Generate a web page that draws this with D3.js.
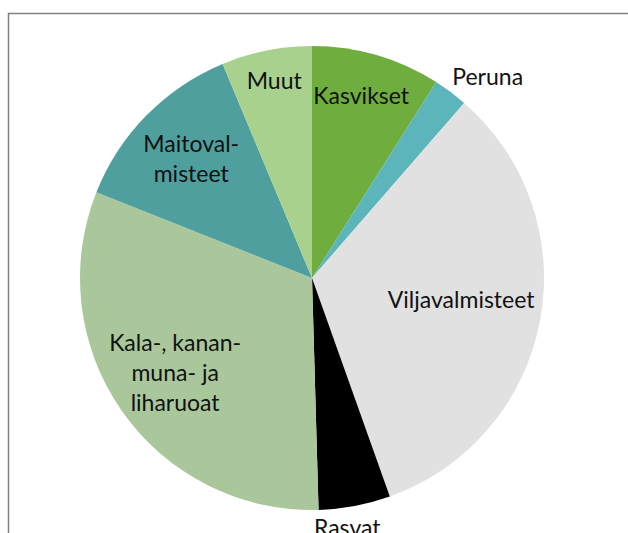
<!DOCTYPE html>
<html>
<head>
<meta charset="utf-8">
<script src="https://cdn.jsdelivr.net/npm/d3@7"></script>
<style>
  html, body { margin: 0; padding: 0; background: #fff; overflow: hidden; }
  svg { display: block; }
</style>
</head>
<body>
<div id="chart"></div>
<script>
// food groups, clockwise from 12 o'clock (share of total, %)
var categories = ["Kasvikset", "Peruna", "Viljavalmisteet", "Rasvat", "Kala-, kananmuna- ja liharuoat", "Maitovalmisteet", "Muut"];
var values = [9.0, 2.4, 33.2, 5.0, 31.5, 12.7, 6.3];
// label lines as printed in the chart
var labelLines = [["Kasvikset"], ["Peruna"], ["Viljavalmisteet"], ["Rasvat"], ["Kala-, kanan-", "muna- ja", "liharuoat"], ["Maitoval-", "misteet"], ["Muut"]];
var colors = ["#6fad3f", "#5bb5bb", "#e1e1e1", "#000000", "#a9c79b", "#4f9f9f", "#a9d18e"];

var width = 628, height = 533;
var cx = 312, cy = 278, radius = 232;

// where each label sits, as a fraction of the radius
var labelRadius = {
  "Kasvikset": 0.81, "Peruna": 1.15, "Viljavalmisteet": 0.65, "Rasvat": 1.09,
  "Kala-, kananmuna- ja liharuoat": 0.72, "Maitovalmisteet": 0.73, "Muut": 0.86
};
var labelAngleShift = { "Peruna": 4.5, "Rasvat": 2.6, "Muut": 0.4, "Viljavalmisteet": -2.2, "Kasvikset": -1 };

var data = categories.map((c, i) => ({name: c, value: values[i], lines: labelLines[i], color: colors[i]}));

var svg = d3.select("#chart").append("svg")
    .attr("width", width)
    .attr("height", height);

// chart area border (extends past the photo on the right and bottom)
svg.append("rect")
    .attr("x", 8.5).attr("y", 13.5)
    .attr("width", width + 20).attr("height", height + 20)
    .attr("fill", "#fff")
    .attr("stroke", "#808080")
    .attr("stroke-width", 1.5);

var pie = d3.pie().sort(null).value(d => d.value);
var arc = d3.arc().innerRadius(0).outerRadius(radius);
var arcs = pie(data);

var g = svg.append("g").attr("transform", `translate(${cx},${cy})`);

g.selectAll("path")
  .data(arcs)
  .join("path")
    .attr("d", arc)
    .attr("fill", d => d.data.color);

var fontSize = 23, lineH = 30;

g.selectAll("text")
  .data(arcs)
  .join("text")
    .attr("text-anchor", "middle")
    .attr("font-family", "Lato, 'Open Sans', sans-serif")
    .attr("font-size", fontSize)
    .attr("fill", "#111")
    .attr("transform", d => {
      var a = (d.startAngle + d.endAngle) / 2 + (labelAngleShift[d.data.name] || 0) * Math.PI / 180;
      var r = radius * labelRadius[d.data.name];
      return `translate(${r * Math.sin(a)},${-r * Math.cos(a)})`;
    })
    .each(function(d) {
      var n = d.data.lines.length;
      d3.select(this).selectAll("tspan")
        .data(d.data.lines)
        .join("tspan")
          .attr("x", 0)
          .attr("y", (l, i) => (i - (n - 1) / 2) * lineH)
          .attr("dy", "0.32em")
          .text(l => l);
    });
</script>
</body>
</html>
